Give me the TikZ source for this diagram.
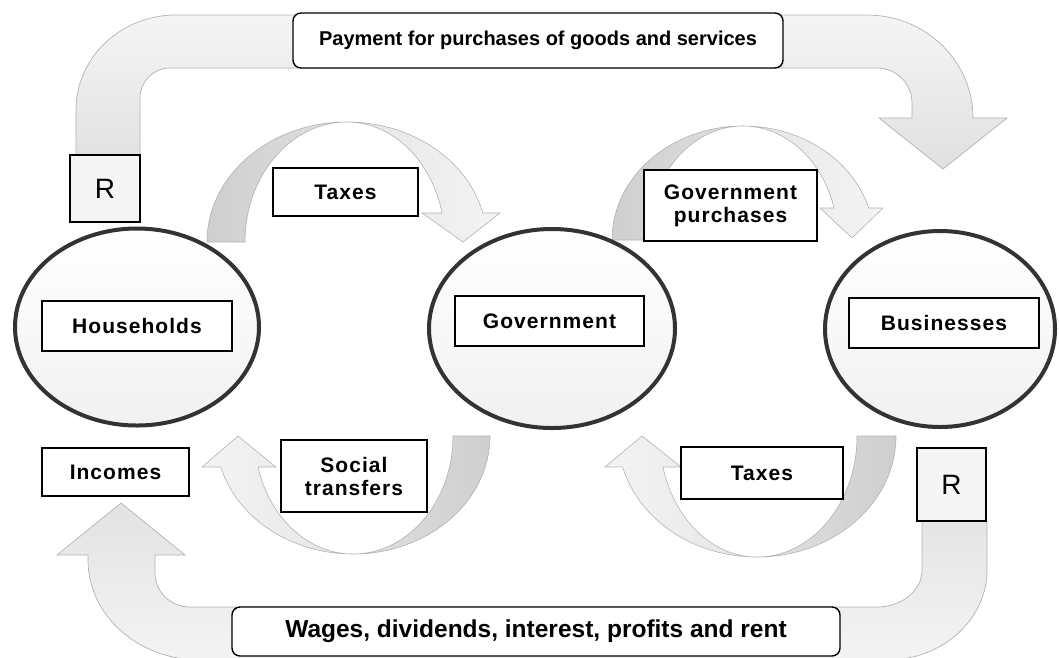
\documentclass[tikz,border=0pt]{standalone}
\usepackage{fontspec}
\setmainfont{Liberation Sans}
\newfontfamily\spaced[LetterSpace=5]{Liberation Sans}
\usetikzlibrary{shapes.geometric}
\begin{document}
\begin{tikzpicture}[x=1pt,y=1pt,yscale=-1,
  bigband/.style={draw=gray!60, line width=0.7pt},
  darkpart/.style={draw=gray!60, line width=0.6pt, left color=gray!38, right color=gray!24},
  darkpartr/.style={draw=gray!60, line width=0.6pt, left color=gray!24, right color=gray!38},
  lightpart/.style={draw=gray!60, line width=0.6pt, left color=gray!20, right color=gray!9},
  lightpartr/.style={draw=gray!60, line width=0.6pt, left color=gray!9, right color=gray!20},
  sector/.style={ellipse, draw=black!80, line width=4pt, top color=white, bottom color=gray!11, inner sep=0pt},
  lbox/.style={draw=black, line width=1.4pt, fill=white, inner sep=0pt, align=center,
    font=\spaced\bfseries\fontsize{21}{23}\selectfont},
  rbox/.style={draw=black, line width=1.4pt, fill=gray!8, inner sep=0pt,
    font=\fontsize{28}{30}\selectfont},
  flowbox/.style={draw=black, line width=1.4pt, fill=white, rounded corners=8pt, inner sep=0pt,
    font=\bfseries\fontsize{20}{24}\selectfont}
]
\useasboundingbox (0,0) rectangle (1059,657);

% big top band: households -> businesses
\path[bigband, top color=gray!8, bottom color=gray!24]
 (76,155) -- (76,110) arc[start angle=180,end angle=270,x radius=100,y radius=95]
 -- (867,15) arc[start angle=270,end angle=360,x radius=106,y radius=103]
 -- (1007,118) -- (943,169) -- (879,118) -- (912,118) -- (912,103)
 arc[start angle=0,end angle=-90,x radius=35,y radius=35]
 -- (170,68) arc[start angle=270,end angle=180,x radius=30,y radius=30]
 -- (140,155) -- cycle;

% big bottom band: businesses -> households
\path[bigband, top color=gray!22, bottom color=gray!9]
 (922,521) -- (922,570) arc[start angle=0,end angle=90,x radius=45,y radius=37]
 -- (190,607) arc[start angle=90,end angle=180,x radius=35,y radius=34]
 -- (155,555) -- (185,555) -- (121,503) -- (57,555) -- (88,555) -- (88,560)
 arc[start angle=180,end angle=90,x radius=112,y radius=100]
 -- (887,660) arc[start angle=90,end angle=0,x radius=100,y radius=90]
 -- (987,521) -- cycle;

% taxes: households -> government
\path[darkpart] (207,242) arc[start angle=180,end angle=270,x radius=140,y radius=120]
 arc[start angle=270,end angle=180,x radius=102,y radius=120] -- cycle;
\path[lightpart] (347,122) arc[start angle=270,end angle=346,x radius=140,y radius=120]
 -- (500,213) -- (463,242) -- (422,213) -- (442.1,213)
 arc[start angle=346,end angle=270,x radius=98,y radius=120] -- cycle;

% government purchases: government -> businesses
\path[darkpart] (612,240) arc[start angle=180,end angle=270,x radius=131,y radius=114]
 arc[start angle=270,end angle=180,x radius=95,y radius=114] -- cycle;
\path[lightpart] (743,126) arc[start angle=270,end angle=343.7,x radius=131,y radius=114]
 -- (883,208) -- (852,238) -- (820,208) -- (834,208)
 arc[start angle=343.7,end angle=270,x radius=94.8,y radius=114] -- cycle;

% social transfers: government -> households
\path[darkpartr] (490,436) arc[start angle=0,end angle=90,x radius=137,y radius=118]
 arc[start angle=90,end angle=0,x radius=100,y radius=118] -- cycle;
\path[lightpartr] (353,554) arc[start angle=90,end angle=164.8,x radius=137,y radius=118]
 -- (202,467) -- (238,436) -- (276,467) -- (258,467)
 arc[start angle=164.8,end angle=90,x radius=98.5,y radius=118] -- cycle;

% taxes: businesses -> government
\path[darkpartr] (896,436) arc[start angle=0,end angle=90,x radius=139,y radius=121]
 arc[start angle=90,end angle=0,x radius=100,y radius=121] -- cycle;
\path[lightpartr] (757,557) arc[start angle=90,end angle=165.2,x radius=139,y radius=121]
 -- (605,467) -- (642,436) -- (681,467) -- (663,467)
 arc[start angle=165.2,end angle=90,x radius=97.2,y radius=121] -- cycle;

% sectors
\node[sector, minimum width=244pt, minimum height=197pt] (hhE) at (137,327) {};
\node[sector, minimum width=246pt, minimum height=199pt] (govE) at (552,328.5) {};
\node[sector, minimum width=230pt, minimum height=196pt] (busE) at (940,329) {};

% labels
\node[lbox, minimum width=190pt, minimum height=50pt] (hh) at (137,326) {Households};
\node[lbox, minimum width=189pt, minimum height=50pt] (gov) at (549.5,321) {Government};
\node[lbox, minimum width=190pt, minimum height=50pt] (bus) at (944,323) {Businesses};
\node[lbox, minimum width=147pt, minimum height=48pt] (inc) at (115.5,472) {Incomes};
\node[lbox, minimum width=145pt, minimum height=48pt] (tax1) at (345.5,192) {Taxes};
\node[lbox, minimum width=173pt, minimum height=71pt] (gp) at (730.5,205.5) {Government\\purchases};
\node[lbox, minimum width=146pt, minimum height=72pt] (st) at (354,476) {Social\\transfers};
\node[lbox, minimum width=162pt, minimum height=52pt] (tax2) at (762,473) {Taxes};
\node[rbox, minimum width=70pt, minimum height=67pt] (r1) at (105,188.5) {R};
\node[rbox, minimum width=69pt, minimum height=73pt] (r2) at (951.5,484.5) {R};
\node[flowbox, minimum width=490pt, minimum height=55pt] (pay) at (538,40.5) {Payment for purchases of goods and services};
\node[flowbox, minimum width=608pt, minimum height=49pt, font=\bfseries\fontsize{24.5}{28}\selectfont] (wag) at (536,631.5) {Wages, dividends, interest, profits and rent};
\end{tikzpicture}
\end{document}
